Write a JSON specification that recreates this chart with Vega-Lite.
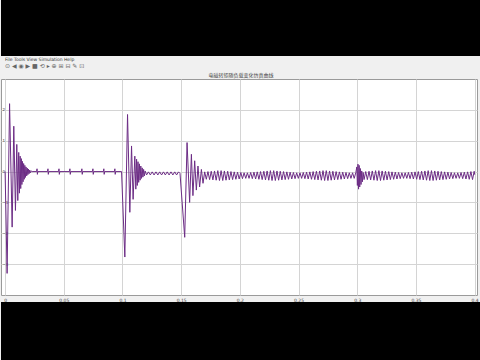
{
  "$schema": "https://vega.github.io/schema/vega-lite/v6.json",
  "background": "#f0f0f0",
  "padding": 0,
  "spacing": 0,
  "config": {"font": "DejaVu Sans"},
  "vconcat": [
    {
      "width": 480, "height": 56,
      "view": {"fill": "#000000", "stroke": null},
      "data": {"values": [{"s": ""}]},
      "mark": {"type": "text"},
      "encoding": {"text": {"field": "s"}}
    },
    {
      "width": 480, "height": 9,
      "view": {"fill": null, "stroke": null},
      "title": {
        "text": "File   Tools   View   Simulation   Help",
        "subtitle": "⊙ ◀ ◉ ▶ ■ ⟲  ▸ ⊕ ⊞ ⊟  ✎ ⊡",
        "anchor": "start", "dx": 4, "offset": 0,
        "fontSize": 4.5, "fontWeight": "normal", "color": "#333333",
        "subtitleFontSize": 6, "subtitleColor": "#666666", "subtitlePadding": 2
      },
      "data": {"values": [{"s": "电磁转矩随负载变化仿真曲线"}]},
      "mark": {"type": "text", "font": "Noto Sans CJK SC", "fontSize": 5, "color": "#444444", "baseline": "middle", "dy": 1},
      "encoding": {"text": {"field": "s"}}
    },
    {
      "width": 476, "height": 216,
      "view": {"fill": "#ffffff", "stroke": "#9a9a9a"},
      "data": {"values": [
        {"t":0,"v":0},{"t":0.0017,"v":-3.3},{"t":0.0038,"v":2.2},{"t":0.006,"v":-1.8},{"t":0.0074,"v":1.47},{"t":0.0088,"v":-1.26},{"t":0.00995,"v":0.88},{"t":0.0108,"v":-0.94},{"t":0.0116,"v":0.62},{"t":0.0122,"v":-0.7},{"t":0.0128,"v":0.5},{"t":0.0133,"v":-0.55},{"t":0.0138,"v":0.42},{"t":0.0143,"v":-0.42},{"t":0.0148,"v":0.33},{"t":0.0153,"v":-0.33},{"t":0.0158,"v":0.26},{"t":0.0163,"v":-0.25},{"t":0.0168,"v":0.2},{"t":0.0173,"v":-0.19},{"t":0.0178,"v":0.15},{"t":0.0184,"v":-0.14},{"t":0.0189,"v":0.11},{"t":0.0194,"v":-0.1},{"t":0.0199,"v":0.08},{"t":0.0204,"v":-0.07},{"t":0.021,"v":0.05},{"t":0.0216,"v":-0.04},{"t":0.0223,"v":0.02},{"t":0.023,"v":0},
        {"t":0.0268,"v":0},{"t":0.0272,"v":0.09},{"t":0.0275,"v":-0.09},{"t":0.0279,"v":0},
        {"t":0.0361,"v":0},{"t":0.0365,"v":0.09},{"t":0.0368,"v":-0.09},{"t":0.0372,"v":0},
        {"t":0.0455,"v":0},{"t":0.0459,"v":0.09},{"t":0.0462,"v":-0.09},{"t":0.0466,"v":0},
        {"t":0.0548,"v":0},{"t":0.0552,"v":0.09},{"t":0.0555,"v":-0.09},{"t":0.0559,"v":0},
        {"t":0.065,"v":0},{"t":0.0654,"v":0.09},{"t":0.0657,"v":-0.09},{"t":0.0661,"v":0},
        {"t":0.0744,"v":0},{"t":0.0748,"v":0.09},{"t":0.0751,"v":-0.09},{"t":0.0755,"v":0},
        {"t":0.0837,"v":0},{"t":0.0841,"v":0.09},{"t":0.0844,"v":-0.09},{"t":0.0848,"v":0},
        {"t":0.0931,"v":0},{"t":0.0935,"v":0.09},{"t":0.0938,"v":-0.09},{"t":0.0942,"v":0},
        {"t":0.0992,"v":0},{"t":0.102,"v":-2.77},{"t":0.1043,"v":1.85},{"t":0.10625,"v":-1.32},{"t":0.1077,"v":0.83},{"t":0.10905,"v":-0.9},{"t":0.1105,"v":0.5},{"t":0.11135,"v":-0.57},{"t":0.112,"v":0.4},{"t":0.1126,"v":-0.45},{"t":0.1132,"v":0.32},{"t":0.1138,"v":-0.35},{"t":0.1144,"v":0.25},{"t":0.115,"v":-0.28},{"t":0.1156,"v":0.18},{"t":0.1162,"v":-0.22},{"t":0.1168,"v":0.12},{"t":0.1174,"v":-0.18},{"t":0.118,"v":0.07},{"t":0.1186,"v":-0.14},{"t":0.1193,"v":0.02},
        {"t":0.1205,"v":-0.11},{"t":0.1221,"v":-0.01},{"t":0.1237,"v":-0.11},{"t":0.1253,"v":-0.01},{"t":0.1269,"v":-0.11},{"t":0.1285,"v":-0.01},{"t":0.1301,"v":-0.11},{"t":0.1317,"v":-0.01},{"t":0.1333,"v":-0.11},{"t":0.1349,"v":-0.01},{"t":0.1365,"v":-0.11},{"t":0.1381,"v":-0.01},{"t":0.1397,"v":-0.11},{"t":0.1413,"v":-0.01},{"t":0.1429,"v":-0.11},{"t":0.1445,"v":-0.01},{"t":0.1461,"v":-0.11},{"t":0.1477,"v":-0.01},{"t":0.149,"v":-0.06},
        {"t":0.153,"v":-2.13},{"t":0.155,"v":0.94},{"t":0.1572,"v":-1.0},{"t":0.1587,"v":0.56},{"t":0.16,"v":-0.78},{"t":0.1615,"v":0.35},{"t":0.1629,"v":-0.6},{"t":0.1643,"v":0.18},{"t":0.1657,"v":-0.5},{"t":0.1672,"v":0.07},{"t":0.1686,"v":-0.38},
        {"t":0.17,"v":-0.01},{"t":0.1714,"v":-0.25},{"t":0.1728,"v":0},{"t":0.1742,"v":-0.26},{"t":0.1756,"v":0.01},{"t":0.177,"v":-0.27},{"t":0.1784,"v":0.02},{"t":0.1798,"v":-0.28},{"t":0.1812,"v":0.03},{"t":0.1826,"v":-0.29},{"t":0.184,"v":0.03},{"t":0.1854,"v":-0.29},{"t":0.1868,"v":0.02},{"t":0.1882,"v":-0.28},{"t":0.1896,"v":0.01},{"t":0.191,"v":-0.27},{"t":0.1924,"v":0},{"t":0.1938,"v":-0.26},{"t":0.1952,"v":-0.01},{"t":0.1966,"v":-0.25},{"t":0.198,"v":-0.02},{"t":0.1994,"v":-0.24},{"t":0.2008,"v":-0.03},{"t":0.2022,"v":-0.23},{"t":0.2036,"v":-0.04},{"t":0.205,"v":-0.22},{"t":0.2064,"v":-0.04},{"t":0.2078,"v":-0.22},{"t":0.2092,"v":-0.03},{"t":0.2106,"v":-0.23},{"t":0.212,"v":-0.02},{"t":0.2134,"v":-0.24},
        {"t":0.2148,"v":-0.01},{"t":0.2162,"v":-0.25},{"t":0.2176,"v":0},{"t":0.219,"v":-0.26},{"t":0.2204,"v":0.01},{"t":0.2218,"v":-0.27},{"t":0.2232,"v":0.02},{"t":0.2246,"v":-0.28},{"t":0.226,"v":0.03},{"t":0.2274,"v":-0.29},{"t":0.2288,"v":0.03},{"t":0.2302,"v":-0.29},{"t":0.2316,"v":0.02},{"t":0.233,"v":-0.28},{"t":0.2344,"v":0.01},{"t":0.2358,"v":-0.27},{"t":0.2372,"v":0},{"t":0.2386,"v":-0.26},{"t":0.24,"v":-0.01},{"t":0.2414,"v":-0.25},{"t":0.2428,"v":-0.02},{"t":0.2442,"v":-0.24},{"t":0.2456,"v":-0.03},{"t":0.247,"v":-0.23},{"t":0.2484,"v":-0.04},{"t":0.2498,"v":-0.22},{"t":0.2512,"v":-0.04},{"t":0.2526,"v":-0.22},{"t":0.254,"v":-0.03},{"t":0.2554,"v":-0.23},{"t":0.2568,"v":-0.02},{"t":0.2582,"v":-0.24},
        {"t":0.2596,"v":-0.01},{"t":0.261,"v":-0.25},{"t":0.2624,"v":0},{"t":0.2638,"v":-0.26},{"t":0.2652,"v":0.01},{"t":0.2666,"v":-0.27},{"t":0.268,"v":0.02},{"t":0.2694,"v":-0.28},{"t":0.2708,"v":0.03},{"t":0.2722,"v":-0.29},{"t":0.2736,"v":0.03},{"t":0.275,"v":-0.29},{"t":0.2764,"v":0.02},{"t":0.2778,"v":-0.28},{"t":0.2792,"v":0.01},{"t":0.2806,"v":-0.27},{"t":0.282,"v":0},{"t":0.2834,"v":-0.26},{"t":0.2848,"v":-0.01},{"t":0.2862,"v":-0.25},{"t":0.2876,"v":-0.02},{"t":0.289,"v":-0.24},{"t":0.2904,"v":-0.03},{"t":0.2918,"v":-0.23},{"t":0.2932,"v":-0.04},{"t":0.2946,"v":-0.22},{"t":0.296,"v":-0.04},{"t":0.2974,"v":-0.22},{"t":0.2988,"v":-0.03},
        {"t":0.2996,"v":0.15},{"t":0.3001,"v":-0.45},{"t":0.3006,"v":0.24},{"t":0.3011,"v":-0.57},{"t":0.3016,"v":0.2},{"t":0.3021,"v":-0.5},{"t":0.3026,"v":0.1},{"t":0.3032,"v":-0.42},{"t":0.3038,"v":0.02},{"t":0.3044,"v":-0.33},{"t":0.305,"v":-0.03},{"t":0.3058,"v":-0.26},
        {"t":0.3072,"v":0},{"t":0.3086,"v":-0.26},{"t":0.31,"v":0.01},{"t":0.3114,"v":-0.27},{"t":0.3128,"v":0.02},{"t":0.3142,"v":-0.28},{"t":0.3156,"v":0.03},{"t":0.317,"v":-0.29},{"t":0.3184,"v":0.03},{"t":0.3198,"v":-0.29},{"t":0.3212,"v":0.02},{"t":0.3226,"v":-0.28},{"t":0.324,"v":0.01},{"t":0.3254,"v":-0.27},{"t":0.3268,"v":0},{"t":0.3282,"v":-0.26},{"t":0.3296,"v":-0.01},{"t":0.331,"v":-0.25},{"t":0.3324,"v":-0.02},{"t":0.3338,"v":-0.24},{"t":0.3352,"v":-0.03},{"t":0.3366,"v":-0.23},{"t":0.338,"v":-0.04},{"t":0.3394,"v":-0.22},{"t":0.3408,"v":-0.04},{"t":0.3422,"v":-0.22},{"t":0.3436,"v":-0.03},{"t":0.345,"v":-0.23},{"t":0.3464,"v":-0.02},{"t":0.3478,"v":-0.24},
        {"t":0.3492,"v":-0.01},{"t":0.3506,"v":-0.25},{"t":0.352,"v":0},{"t":0.3534,"v":-0.26},{"t":0.3548,"v":0.01},{"t":0.3562,"v":-0.27},{"t":0.3576,"v":0.02},{"t":0.359,"v":-0.28},{"t":0.3604,"v":0.03},{"t":0.3618,"v":-0.29},{"t":0.3632,"v":0.03},{"t":0.3646,"v":-0.29},{"t":0.366,"v":0.02},{"t":0.3674,"v":-0.28},{"t":0.3688,"v":0.01},{"t":0.3702,"v":-0.27},{"t":0.3716,"v":0},{"t":0.373,"v":-0.26},{"t":0.3744,"v":-0.01},{"t":0.3758,"v":-0.25},{"t":0.3772,"v":-0.02},{"t":0.3786,"v":-0.24},{"t":0.38,"v":-0.03},{"t":0.3814,"v":-0.23},{"t":0.3828,"v":-0.04},{"t":0.3842,"v":-0.22},{"t":0.3856,"v":-0.04},{"t":0.387,"v":-0.22},{"t":0.3884,"v":-0.03},{"t":0.3898,"v":-0.23},{"t":0.3912,"v":-0.02},{"t":0.3926,"v":-0.24},
        {"t":0.394,"v":-0.01},{"t":0.3954,"v":-0.25},{"t":0.3968,"v":0},{"t":0.3982,"v":-0.26},{"t":0.3996,"v":0.01},{"t":0.4,"v":-0.1}
      ]},
      "mark": {"type": "line", "color": "#6c2c85", "strokeWidth": 1, "clip": true},
      "encoding": {
        "x": {
          "field": "t", "type": "quantitative",
          "scale": {"domain": [-0.0035, 0.402], "nice": false, "zero": false},
          "axis": {
            "title": null, "values": [0, 0.05, 0.1, 0.15, 0.2, 0.25, 0.3, 0.35, 0.4],
            "format": "~g", "grid": true, "gridColor": "#d4d4d4", "domain": false,
            "ticks": false, "labelFontSize": 4.5, "labelColor": "#444444", "labelPadding": 2,
            "labelFlush": false
          }
        },
        "y": {
          "field": "v", "type": "quantitative",
          "scale": {"domain": [-4, 3], "nice": false, "zero": false},
          "axis": {
            "title": null, "values": [-3, -2, -1, 0, 1, 2],
            "grid": true, "gridColor": "#d4d4d4", "domain": false,
            "ticks": false, "labelFontSize": 4, "labelColor": "#444444",
            "labelAlign": "left", "labelPadding": -1
          }
        }
      }
    },
    {
      "width": 480, "height": 60,
      "view": {"fill": "#000000", "stroke": null},
      "data": {"values": [{"s": ""}]},
      "mark": {"type": "text"},
      "encoding": {"text": {"field": "s"}}
    }
  ]
}
